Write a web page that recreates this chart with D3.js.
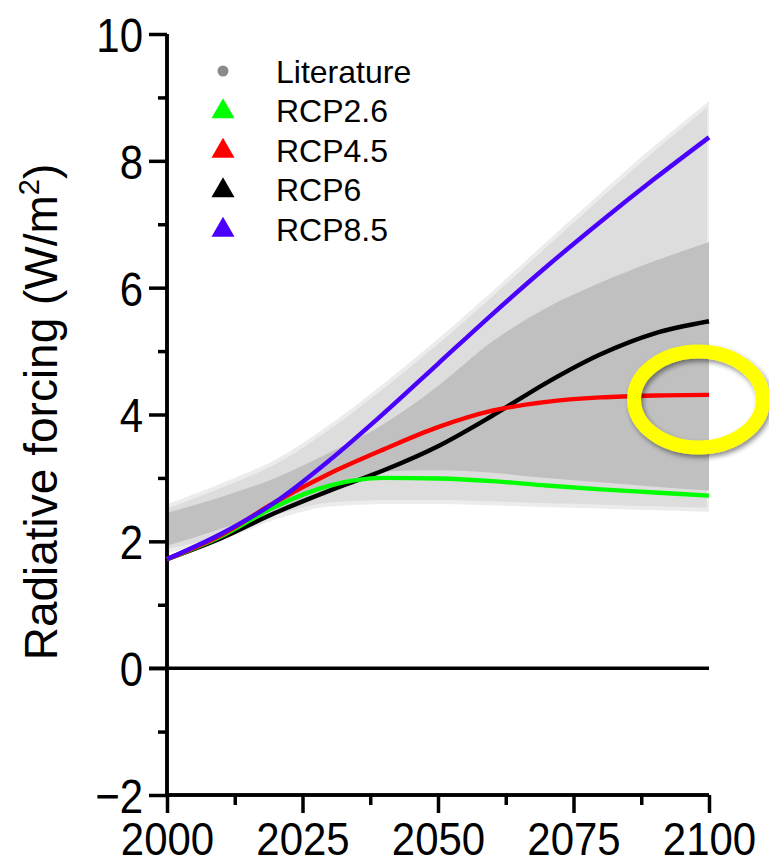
<!DOCTYPE html>
<html><head><meta charset="utf-8">
<script src="https://cdn.jsdelivr.net/npm/d3@7"></script>
<style>body{margin:0;background:#fff}svg{display:block}</style>
</head><body>
<script>
// ---- data ----
const years = [2000, 2010, 2020, 2030, 2040, 2050, 2060, 2070, 2080, 2090, 2100];
const rcp26 = [1.72, 2.08, 2.55, 2.88, 3.0, 2.99, 2.95, 2.88, 2.82, 2.77, 2.72];
const rcp45 = [1.72, 2.1, 2.62, 3.07, 3.45, 3.8, 4.06, 4.2, 4.27, 4.3, 4.31];
const rcp6  = [1.72, 2.05, 2.45, 2.8, 3.12, 3.5, 3.98, 4.5, 4.95, 5.28, 5.47];
const rcp85 = [1.72, 2.12, 2.62, 3.28, 4.02, 4.8, 5.58, 6.33, 7.04, 7.72, 8.37];
const litOuterLow  = [1.85, 2.05, 2.38, 2.58, 2.62, 2.62, 2.6, 2.57, 2.55, 2.52, 2.5];
const litOuterHigh = [2.55, 2.88, 3.25, 3.8, 4.45, 5.15, 5.9, 6.68, 7.45, 8.2, 8.9];
const litInnerLow  = [1.93, 2.2, 2.5, 2.85, 3.1, 3.12, 3.08, 3.0, 2.93, 2.86, 2.8];
const litInnerHigh = [2.45, 2.7, 3.0, 3.4, 3.85, 4.45, 5.15, 5.68, 6.08, 6.42, 6.72];
const yMajor = [-2, 0, 2, 4, 6, 8, 10];
const yMinor = [-1, 1, 3, 5, 7, 9];
const xMajor = [2000, 2025, 2050, 2075, 2100];
const xMinor = [2012.5, 2037.5, 2062.5, 2087.5];
const legendLabels = ["Literature", "RCP2.6", "RCP4.5", "RCP6", "RCP8.5"];
const legendColors = ["#8a8a8a", "#00ff00", "#ff0000", "#000000", "#4a00ff"];
const yTitle = "Radiative forcing (W/m";
const highlightYear = 2100, highlightValue = 4.3;

// ---- layout ----
const W = 769, H = 865;
const x = d3.scaleLinear().domain([2000, 2100]).range([167, 709]);
const y = d3.scaleLinear().domain([-2, 10]).range([795, 34]);
const font = "'Liberation Sans', Arial, Helvetica, sans-serif";

const svg = d3.select("body").append("svg").attr("width", W).attr("height", H);
const defs = svg.append("defs");
defs.append("clipPath").attr("id", "plotclip").append("rect")
  .attr("x", x(2000)).attr("y", 0).attr("width", x(2100) - x(2000)).attr("height", H);
const sh = defs.append("filter").attr("id", "shadow").attr("x", "-20%").attr("y", "-20%").attr("width", "150%").attr("height", "150%");
sh.append("feDropShadow").attr("dx", 2).attr("dy", 3).attr("stdDeviation", 2.5).attr("flood-color", "#000").attr("flood-opacity", 0.45);

const pts = (lo, hi) => years.map((t, i) => ({t, lo: lo[i], hi: hi[i]}));
const area = d3.area().x(d => x(d.t)).y0(d => y(d.lo)).y1(d => y(d.hi)).curve(d3.curveMonotoneX);

const bands = svg.append("g").attr("clip-path", "url(#plotclip)");
bands.append("path").datum(pts(litOuterLow, litOuterHigh)).attr("d", area)
  .attr("fill", "#dddddd").attr("stroke", "#ececec").attr("stroke-width", 4);
bands.append("path").datum(pts(litInnerLow, litInnerHigh)).attr("d", area)
  .attr("fill", "#c0c0c0");

// axes
const axG = svg.append("g");
const yAx = axG.append("g").attr("transform", `translate(${x(2000)},0)`)
  .call(d3.axisLeft(y).tickValues(yMajor).tickSize(18).tickPadding(8).tickFormat(d3.format("d")));
const yAxMinor = axG.append("g").attr("transform", `translate(${x(2000)},0)`)
  .call(d3.axisLeft(y).tickValues(yMinor).tickSize(9).tickFormat(""));
const xAx = axG.append("g").attr("transform", `translate(0,${y(-2)})`)
  .call(d3.axisBottom(x).tickValues(xMajor).tickSize(18).tickFormat(d3.format("d")));
const xAxMinor = axG.append("g").attr("transform", `translate(0,${y(-2)})`)
  .call(d3.axisBottom(x).tickValues(xMinor).tickSize(10).tickFormat(""));
axG.selectAll(".domain").attr("stroke", "#000").attr("stroke-width", 3.5);
[yAx, yAxMinor].forEach(g => g.select(".domain").attr("d", `M0,${y(10)}V${y(-2)}`));
[xAx, xAxMinor].forEach(g => g.select(".domain").attr("d", `M${x(2000)},0H${x(2100)}`));
axG.selectAll(".tick line").attr("stroke", "#000").attr("stroke-width", 3.5);
axG.selectAll(".tick text").attr("fill", "#000").attr("font-family", font).attr("font-size", 42);
yAx.selectAll(".tick text").attr("dy", "0.36em").attr("x", -24).attr("transform", "scale(1,1.15)");
xAx.selectAll(".tick text").attr("y", 24).attr("dy", "0.71em").attr("transform", "scale(1,1.12)");

// zero line
svg.append("line").attr("x1", x(2000) - 18).attr("x2", x(2100)).attr("y1", y(0)).attr("y2", y(0))
  .attr("stroke", "#000").attr("stroke-width", 3.5);

// series lines
const line = d3.line().x((d, i) => x(years[i])).y(d => y(d)).curve(d3.curveMonotoneX);
[[rcp6, legendColors[3]], [rcp26, legendColors[1]], [rcp45, legendColors[2]], [rcp85, legendColors[4]]]
  .forEach(([s, c]) => svg.append("path").datum(s).attr("d", line).attr("fill", "none")
    .attr("stroke", c).attr("stroke-width", 4.4).attr("stroke-linejoin", "round"));

// legend
const lg = svg.append("g");
legendLabels.forEach((lab, i) => {
  const cy = 71 + i * 39.5;
  if (i === 0) lg.append("circle").attr("cx", 223).attr("cy", cy).attr("r", 5.5).attr("fill", legendColors[0]);
  else lg.append("path").attr("d", d3.symbol(d3.symbolTriangle, 230)())
    .attr("transform", `translate(223,${cy + 1})`).attr("fill", legendColors[i]);
  lg.append("text").attr("x", 276).attr("y", cy).attr("dy", "0.36em")
    .attr("font-family", font).attr("font-size", 32).attr("fill", "#000").text(lab);
});

// y-axis title
const tt = svg.append("text").attr("transform", `translate(57,412) rotate(-90)`)
  .attr("text-anchor", "middle").attr("font-family", font).attr("font-size", 46).attr("fill", "#000");
tt.append("tspan").text(yTitle);
tt.append("tspan").attr("dy", -18).attr("font-size", 29).text("2");
tt.append("tspan").attr("dy", 18).text(")");

// highlight ellipse
svg.append("ellipse").attr("cx", x(highlightYear) - 10.5).attr("cy", y(highlightValue) + 4)
  .attr("rx", 64.5).attr("ry", 48).attr("fill", "none")
  .attr("stroke", "#ffff00").attr("stroke-width", 14).attr("filter", "url(#shadow)");
</script>
</body></html>
